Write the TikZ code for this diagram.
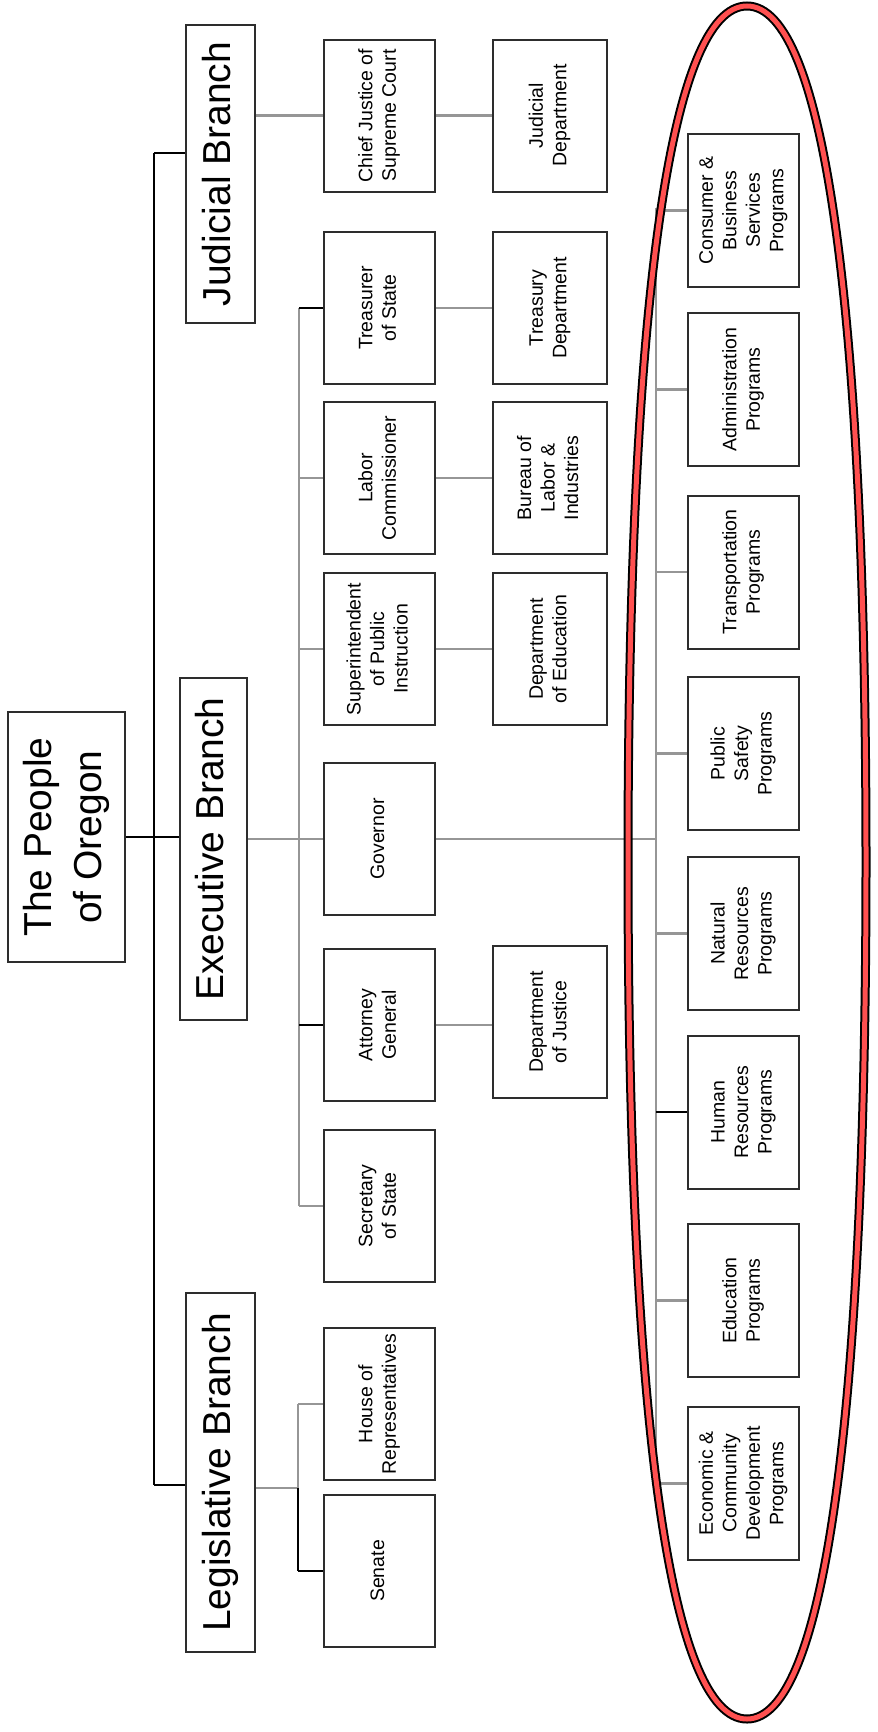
\documentclass[tikz,border=0pt]{standalone}
\usepackage{fontspec}
\setmainfont{Liberation Sans}
\usepackage{graphicx}
\newcommand{\rt}[1]{\rotatebox{90}{\begin{tabular}{@{}c@{}}#1\end{tabular}}}
\definecolor{ringred}{RGB}{255,80,80}
\definecolor{boxline}{RGB}{45,45,45}
\definecolor{lgray}{RGB}{150,150,150}
\begin{document}
\begin{tikzpicture}[x=1pt,y=-1pt,
  box/.style={draw=boxline,line width=2pt,fill=white,inner sep=0pt,
     font=\fontsize{19.5}{23.5}\selectfont},
  bigbox/.style={draw=boxline,line width=1.8pt,fill=white,inner sep=0pt,
     font=\fontsize{39}{50}\selectfont},
  c1/.style={box,minimum width=111pt,minimum height=152pt},
  c2/.style={box,minimum width=114pt,minimum height=152pt},
  c3/.style={box,minimum width=111pt,minimum height=153pt},
  bl/.style={draw=black,line width=1.6pt},
  gl/.style={draw=lgray,line width=2.4pt}]
\useasboundingbox[fill=white] (0,0) rectangle (878,1732);

% top level
\node[bigbox,minimum width=117pt,minimum height=250pt] (people) at (66.5,837) {\rt{The People\\of Oregon}};
\node[bigbox,minimum width=69pt,minimum height=298pt] (jud) at (220.5,174) {\rt{Judicial Branch}};
\node[bigbox,minimum width=67pt,minimum height=342pt] (exe) at (213.5,849) {\rt{Executive Branch}};
\node[bigbox,minimum width=69pt,minimum height=359pt] (leg) at (220.5,1472.5) {\rt{Legislative Branch}};

% column 1
\node[c1] (cj) at (379.5,115.5) {\rt{Chief Justice of\\Supreme Court}};
\node[c1] (tre) at (379.5,308) {\rt{Treasurer\\of State}};
\node[c1] (lab) at (379.5,478) {\rt{Labor\\Commissioner}};
\node[c1] (sup) at (379.5,649) {\rt{Superintendent\\of Public\\Instruction}};
\node[c1] (gov) at (379.5,839) {\rt{Governor}};
\node[c1] (att) at (379.5,1025) {\rt{Attorney\\General}};
\node[c1] (sec) at (379.5,1206) {\rt{Secretary\\of State}};
\node[c1] (house) at (379.5,1404) {\rt{House of\\Representatives}};
\node[c1] (sen) at (379.5,1571) {\rt{Senate}};

% column 2
\node[c2] (jdep) at (550,115.5) {\rt{Judicial\\Department}};
\node[c2] (trd) at (550,308) {\rt{Treasury\\Department}};
\node[c2] (bur) at (550,478) {\rt{Bureau of\\Labor \&\\Industries}};
\node[c2] (ded) at (550,649) {\rt{Department\\of Education}};
\node[c2] (doj) at (550,1022) {\rt{Department\\of Justice}};

% column 3 (programs)
\node[c3] (cons) at (743.5,210.5) {\rt{Consumer \&\\Business\\Services\\Programs}};
\node[c3] (adm) at (743.5,389.5) {\rt{Administration\\Programs}};
\node[c3] (tra) at (743.5,572) {\rt{Transportation\\Programs}};
\node[c3] (pub) at (743.5,753.5) {\rt{Public\\Safety\\Programs}};
\node[c3] (nat) at (743.5,933.5) {\rt{Natural\\Resources\\Programs}};
\node[c3] (hum) at (743.5,1112) {\rt{Human\\Resources\\Programs}};
\node[c3] (edu) at (743.5,1300.5) {\rt{Education\\Programs}};
\node[c3] (eco) at (743.5,1483.5) {\rt{Economic \&\\Community\\Development\\Programs}};

% spine coordinates
\coordinate (spT) at (154,153);
\coordinate (spB) at (154,1485);
\coordinate (es) at (299,308);
\coordinate (ps) at (656,208);
\coordinate (lj) at (298,1488);

% main spine
\draw[bl] (spT) -- (spB);
\draw[bl] (spT) -- (spT -| jud.west);
\draw[bl] (spB) -- (spB -| leg.west);
\draw[bl] (people.east) -- (people.east -| exe.west);

% judicial
\draw[gl] (cj.west -| jud.east) -- (cj.west);
\draw[gl] (cj.east) -- (jdep.west);

% executive
\draw[gl] (gov.west -| exe.east) -- (gov.west);
\draw[gl] (es) -- (sec.west -| es);
\draw[bl] (es) -- (tre.west);
\draw[gl] (lab.west -| es) -- (lab.west);
\draw[gl] (sup.west -| es) -- (sup.west);
\draw[bl] (att.west -| es) -- (att.west);
\draw[gl] (sec.west -| es) -- (sec.west);
\draw[gl] (tre.east) -- (trd.west);
\draw[gl] (lab.east) -- (bur.west);
\draw[gl] (sup.east) -- (ded.west);
\draw[gl] (att.east) -- (att.east -| doj.west);

% programs
\draw[gl] (gov.east) -- (gov.east -| ps);
\draw[gl] (ps) -- (eco.west -| ps);
\draw[gl] (cons.west -| ps) -- (cons.west);
\draw[gl] (adm.west -| ps) -- (adm.west);
\draw[gl] (tra.west -| ps) -- (tra.west);
\draw[gl] (pub.west -| ps) -- (pub.west);
\draw[gl] (nat.west -| ps) -- (nat.west);
\draw[bl] (hum.west -| ps) -- (hum.west);
\draw[gl] (edu.west -| ps) -- (edu.west);
\draw[gl] (eco.west -| ps) -- (eco.west);

% legislative
\draw[gl] (lj -| leg.east) -- (lj);
\draw[gl] (house.west -| lj) -- (lj);
\draw[bl] (lj) -- (sen.west -| lj);
\draw[gl] (house.west -| lj) -- (house.west);
\draw[bl] (sen.west -| lj) -- (sen.west);

% highlight ring
\path[save path=\ring] (747,6)
  .. controls (824,6) and (866,306) .. (866,862)
  .. controls (866,1419) and (824,1719) .. (747,1719)
  .. controls (670,1719) and (628,1419) .. (628,862)
  .. controls (628,306) and (670,6) .. cycle;
\draw[line width=9pt,black,use path=\ring];
\draw[line width=5pt,ringred,use path=\ring];
\end{tikzpicture}
\end{document}
